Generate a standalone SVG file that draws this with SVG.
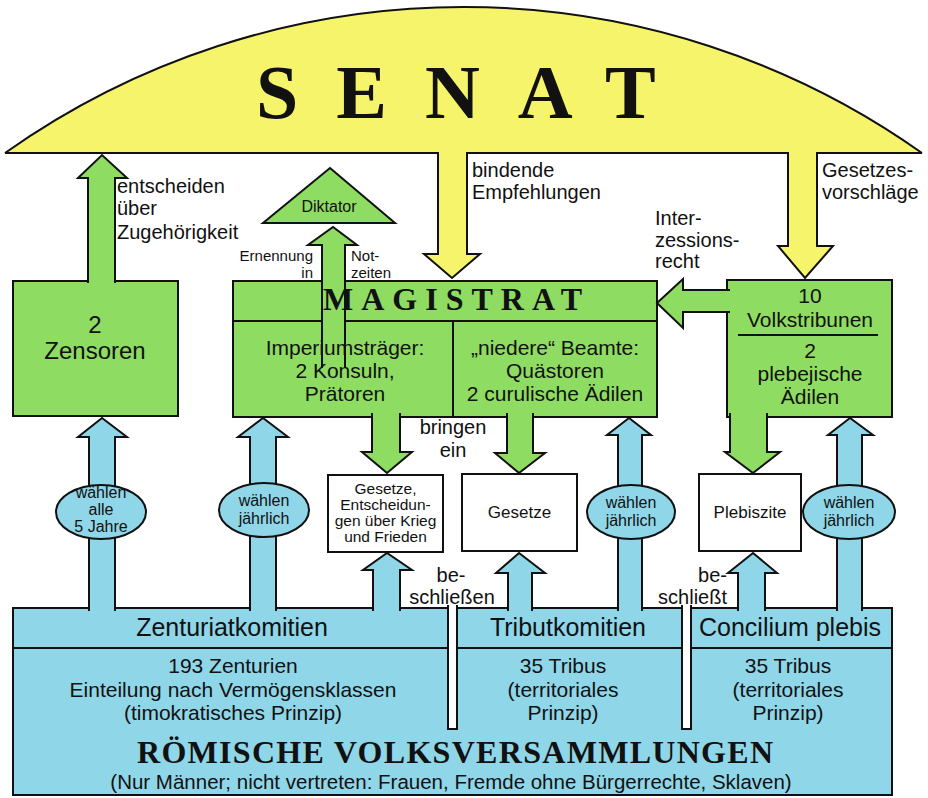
<svg xmlns="http://www.w3.org/2000/svg" width="928" height="798" viewBox="0 0 928 798">
<style>
.g{fill:#8fdc62;stroke:#111;stroke-width:2;stroke-linejoin:miter}
.b{fill:#8fd6e8;stroke:#111;stroke-width:2}
.y{fill:#f6f46a;stroke:#111;stroke-width:2}
.w{fill:#fff;stroke:#111;stroke-width:2}
.ln{fill:none;stroke:#111;stroke-width:2}
text{font-family:"Liberation Sans",Arial,sans-serif;fill:#111}
.s{font-family:"Liberation Serif","Times New Roman",serif;font-weight:bold}
.c{text-anchor:middle}
.e{text-anchor:end}
.t20{font-size:20px}
.t21{font-size:21px}
.t24{font-size:24px}
.t16{font-size:16px}
.t15{font-size:15.5px}
.t14{font-size:15px}
.t17{font-size:17px}
</style>

<g id="senat">
  <path d="M5,153 A793,793 0 0 1 922,153 Z" fill="#f6f46a" stroke="none"/>
  <path d="M5,153 A793,793 0 0 1 922,153" class="ln"/>
  <path d="M5,153 H438 M467,153 H788 M817,153 H922" class="ln"/>
  <text x="256" y="118" class="s" font-size="76" letter-spacing="38">SENAT</text>
</g>

<g id="zensoren">
  <rect x="13" y="281" width="165" height="135" class="g"/>
  <text x="95" y="333" class="c t24">2</text>
  <text x="95" y="359" class="c t24">Zensoren</text>
</g>

<g id="magistrat">
  <rect x="233" y="281" width="424" height="136" class="g"/>
  <path d="M233,321 H657 M453,321 V417" class="ln"/>
</g>

<g id="volkstribunen">
  <rect x="727" y="280" width="165" height="137" class="g"/>
  <path d="M738,335 H878" class="ln"/>
  <text x="810" y="303" class="c t21">10</text>
  <text x="810" y="327" class="c t21">Volkstribunen</text>
  <text x="810" y="358" class="c t21">2</text>
  <text x="810" y="381" class="c t21">plebejische</text>
  <text x="810" y="404" class="c t21">Ädilen</text>
</g>

<g id="diktator">
  <polygon points="330,168 395,223 263,223" class="g"/>
  <text x="329" y="212" class="c t16">Diktator</text>
</g>

<g id="box-gesetze-krieg">
  <rect x="328" y="475" width="115" height="77" class="w"/>
  <text x="385.5" y="494" class="c t15">Gesetze,</text>
  <text x="385.5" y="510" class="c t15">Entscheidun-</text>
  <text x="385.5" y="526" class="c t15">gen über Krieg</text>
  <text x="385.5" y="542" class="c t15">und Frieden</text>
</g>

<g id="box-gesetze">
  <rect x="462" y="474" width="115" height="77" class="w"/>
  <text x="519.5" y="518" class="c t17">Gesetze</text>
</g>

<g id="box-plebiszite">
  <rect x="699" y="474" width="102" height="77" class="w"/>
  <text x="750" y="518" class="c t17">Plebiszite</text>
</g>

<g id="volksversammlungen">
  <rect x="13" y="608" width="879" height="187" class="b"/>
  <path d="M13,648 H892" class="ln"/>
  <rect x="448" y="605" width="9" height="124" fill="#fff"/>
  <rect x="682" y="605" width="9" height="124" fill="#fff"/>
  <path d="M448,605 V729 H457 V605 M682,605 V729 H691 V605" class="ln"/>
  <text x="232" y="636" class="c" font-size="25">Zenturiatkomitien</text>
  <text x="568" y="636" class="c" font-size="25">Tributkomitien</text>
  <text x="790" y="636" class="c" font-size="25">Concilium plebis</text>
  <text x="233" y="673" class="c t21">193 Zenturien</text>
  <text x="233" y="697" class="c t21">Einteilung nach Vermögensklassen</text>
  <text x="233" y="720" class="c t21">(timokratisches Prinzip)</text>
  <text x="563" y="673" class="c t21">35 Tribus</text>
  <text x="563" y="697" class="c t21">(territoriales</text>
  <text x="563" y="720" class="c t21">Prinzip)</text>
  <text x="788" y="673" class="c t21">35 Tribus</text>
  <text x="788" y="697" class="c t21">(territoriales</text>
  <text x="788" y="720" class="c t21">Prinzip)</text>
  <text x="137" y="763" class="s" font-size="32" textLength="636" lengthAdjust="spacing">RÖMISCHE  VOLKSVERSAMMLUNGEN</text>
  <text x="451" y="789" class="c" font-size="20.5">(Nur Männer; nicht vertreten: Frauen, Fremde ohne Bürgerrechte, Sklaven)</text>
</g>

<g id="connectors">
  <path d="M438,152 V254 H424 L452,278 L480,254 H467 V152" class="y"/>
  <path d="M788,152 V246 H778 L805,278 L833,246 H817 V152" class="y"/>
  <path d="M88,283 V178 H78 L102,155 L127,178 H115 V283" class="g"/>
  <path d="M322,368 V245 H308 L333,227 L357,245 H345 V368" class="g"/>
  <path d="M730,290 H683 V279 L657,303 L683,328 V312 H730" class="g"/>
  <path d="M372,413 V452 H362 L387,473 L412,452 H400 V413" class="g"/>
  <path d="M507,413 V453 H495 L519,473 L545,453 H533 V413" class="g"/>
  <path d="M730,413 V452 H725 L753,473 L780,452 H767 V413" class="g"/>
  <path d="M89,611 V437 H78 L102,418 L127,437 H115 V611" class="b"/>
  <path d="M250,611 V437 H238 L263,418 L288,437 H276 V611" class="b"/>
  <path d="M618,611 V435 H607 L629,418 L651,435 H642 V611" class="b"/>
  <path d="M837,611 V435 H828 L850,418 L873,435 H862 V611" class="b"/>
  <path d="M373,611 V570 H363 L387,553 L412,570 H400 V611" class="b"/>
  <path d="M508,611 V573 H496 L519,553 L545,573 H532 V611" class="b"/>
  <path d="M738,611 V573 H728 L753,553 L777,573 H765 V611" class="b"/>
  <ellipse cx="101" cy="512" rx="45" ry="27" class="b"/>
  <ellipse cx="264" cy="510" rx="45" ry="27" class="b"/>
  <ellipse cx="631" cy="512" rx="44" ry="27" class="b"/>
  <ellipse cx="849" cy="512" rx="46" ry="27" class="b"/>
  <text x="101" y="498" class="c t16">wählen</text>
  <text x="101" y="515" class="c t16">alle</text>
  <text x="101" y="532" class="c t16">5 Jahre</text>
  <text x="264" y="506" class="c t16">wählen</text>
  <text x="264" y="524" class="c t16">jährlich</text>
  <text x="631" y="508" class="c t16">wählen</text>
  <text x="631" y="526" class="c t16">jährlich</text>
  <text x="849" y="508" class="c t16">wählen</text>
  <text x="849" y="526" class="c t16">jährlich</text>
  <text x="117" y="193" class="t20">entscheiden</text>
  <text x="117" y="215" class="t20">über</text>
  <text x="117" y="239" class="t20">Zugehörigkeit</text>
  <text x="472" y="177" class="t20">bindende</text>
  <text x="472" y="199" class="t20">Empfehlungen</text>
  <text x="822" y="177" class="t20">Gesetzes-</text>
  <text x="822" y="199" class="t20">vorschläge</text>
  <text x="655" y="225" class="t20">Inter-</text>
  <text x="655" y="247" class="t20">zessions-</text>
  <text x="655" y="268" class="t20">recht</text>
  <text x="313" y="261" class="e t14">Ernennung</text>
  <text x="313" y="278" class="e t14">in</text>
  <text x="351" y="261" class="t14">Not-</text>
  <text x="351" y="278" class="t14">zeiten</text>
  <text x="453" y="434" class="c t20">bringen</text>
  <text x="453" y="457" class="c t20">ein</text>
  <text x="451" y="582" class="c t20">be-</text>
  <text x="452" y="604" class="c t20">schließen</text>
  <text x="727" y="582" class="e t20">be-</text>
  <text x="727" y="604" class="e t20">schließt</text>
</g>

<g id="magistrat-text">
  <text x="323" y="310" class="s" font-size="32" letter-spacing="8">MAGISTRAT</text>
  <text x="345" y="355" class="c t21">Imperiumsträger:</text>
  <text x="345" y="378" class="c t21">2 Konsuln,</text>
  <text x="345" y="401" class="c t21">Prätoren</text>
  <text x="555" y="355" class="c t21">„niedere“ Beamte:</text>
  <text x="555" y="378" class="c t21">Quästoren</text>
  <text x="555" y="401" class="c t21">2 curulische Ädilen</text>
</g>
</svg>
